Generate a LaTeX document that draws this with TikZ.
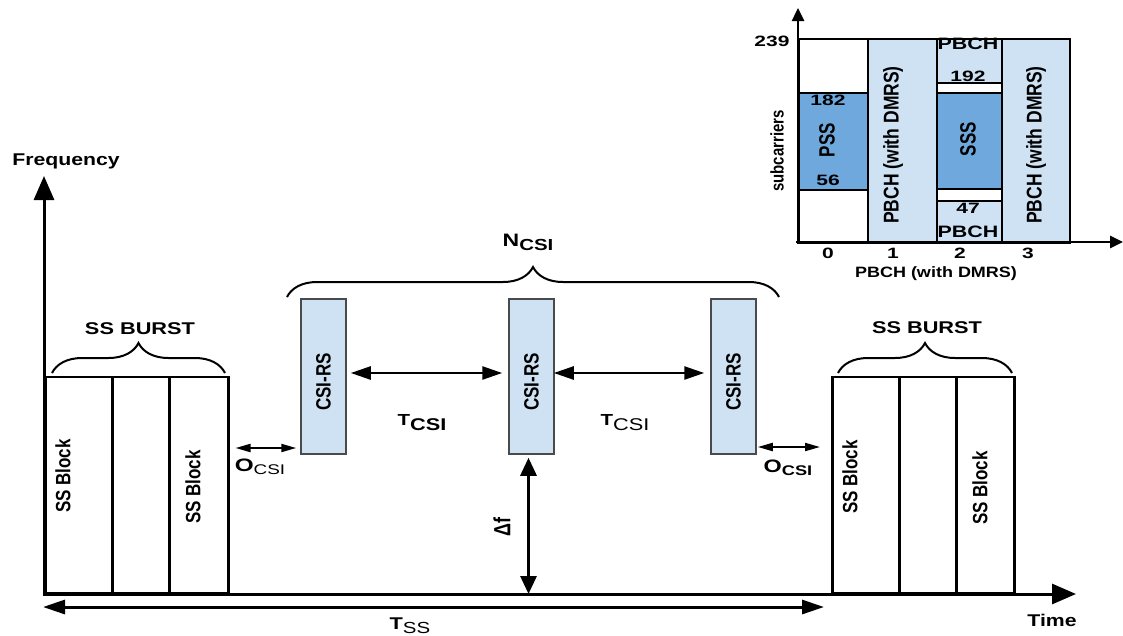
\documentclass[tikz,border=0pt]{standalone}
\usepackage{fontspec}
\setmainfont{Liberation Sans}
\usetikzlibrary{arrows.meta,decorations.pathreplacing}
\definecolor{lblue}{HTML}{CFE2F3}
\definecolor{mblue}{HTML}{6FA8DC}
\definecolor{bgray}{HTML}{4A4A4A}
\newcommand{\hx}[2][1.28]{\scalebox{#1}[1]{#2}}
\newcommand{\vx}[2][1.22]{\scalebox{1}[#1]{#2}}
\newcommand{\fs}[1]{\fontsize{#1}{#1}\selectfont}
\begin{document}
\begin{tikzpicture}[x=1pt,y=-1pt,
  lab/.style={inner sep=0pt, font=\fs{17}\bfseries},
  ilab/.style={inner sep=0pt, font=\fs{15}\bfseries},
  ssbox/.style={draw=black, line width=2.5pt, inner sep=0pt, minimum height=216pt, anchor=south west},
  csibox/.style={draw=bgray, fill=lblue, line width=1.5pt, inner sep=0pt, minimum width=45pt, minimum height=155pt},
  cell/.style={draw=black, line width=1.5pt, inner sep=0pt, anchor=north west},
  axis/.style={line width=3pt, -{Triangle[length=24pt,width=20pt]}},
  iaxis/.style={line width=2.5pt, -{Triangle[length=13pt,width=12pt]}},
  dbl/.style={line width=2.5pt, {Triangle[length=20pt,width=13pt]}-{Triangle[length=20pt,width=13pt]}},
  oarr/.style={line width=2pt, {Triangle[length=15pt,width=8pt]}-{Triangle[length=15pt,width=8pt]}},
  brc/.style={line width=2pt, decorate, decoration={brace, amplitude=30pt}}
]
\useasboundingbox (0,0) rectangle (1123,635);

% ---------- left SS burst ----------
\node[ssbox, minimum width=67pt] (l1) at (44,594) {};
\node[ssbox, minimum width=57pt] (l2) at (111,594) {};
\node[ssbox, minimum width=59pt] (l3) at (168,594) {};
\node[lab, rotate=90] (l1t) at (63,476) {\vx{SS Block}};
\node[lab, rotate=90] (l3t) at (193,487) {\vx{SS Block}};
\draw[brc] (52,373) -- (225,373);
\node[lab] (lburst) at (140,329) {\hx{SS BURST}};

% ---------- right SS burst ----------
\node[ssbox, minimum width=67pt] (r1) at (831,594) {};
\node[ssbox, minimum width=57pt] (r2) at (898,594) {};
\node[ssbox, minimum width=58pt] (r3) at (955,594) {};
\node[lab, rotate=90] (r1t) at (850,477) {\vx{SS Block}};
\node[lab, rotate=90] (r3t) at (980,488) {\vx{SS Block}};
\draw[brc] (838,373) -- (1012,373);
\node[lab] (rburst) at (927,328) {\hx{SS BURST}};

% ---------- CSI-RS ----------
\node[csibox] (c1) at (323.5,376.5) {};
\node[csibox] (c2) at (531.5,376.5) {};
\node[csibox] (c3) at (733.5,376.5) {};
\node[lab, rotate=90] (c1t) at (323.5,382) {\vx{CSI-RS}};
\node[lab, rotate=90] (c2t) at (531.5,382) {\vx{CSI-RS}};
\node[lab, rotate=90] (c3t) at (733.5,382) {\vx{CSI-RS}};
\draw[brc] (287,297) -- (779,297);
\node[lab] (ncsi) at (528,242) {\hx{\fs{18}N\raisebox{-4pt}{\fs{16}CSI}}};

\coordinate (tc) at (0,373);
\draw[dbl, shorten <=4pt, shorten >=6pt] (c1.east |- tc) -- (c2.west |- tc);
\draw[dbl, shorten <=-1pt, shorten >=6pt] (c2.east |- tc) -- (c3.west |- tc);
\node[lab] (tcsi1) at (422,423) {\hx{\fs{16}T\raisebox{-5pt}{\fs{17}CSI}}};
\node[lab] (tcsi2) at (625,423) {\hx{\fs{16}T\raisebox{-5pt}{\fs{17}\mdseries CSI}}};

% offsets
\coordinate (oL) at (0,448);
\coordinate (oR) at (0,447);
\draw[oarr, shorten <=6pt, shorten >=4pt] (l3.east |- oL) -- (c1.west |- oL);
\draw[oarr, shorten <=1pt, shorten >=11pt] (c3.east |- oR) -- (r1.west |- oR);
\node[lab] (olab) at (260,467) {\hx[1.35]{\fs{18}O\raisebox{-3pt}{\fs{14}\mdseries CSI}}};
\node[lab] (orlab) at (788,468) {\hx[1.3]{\fs{18}O\raisebox{-3pt}{\fs{14}CSI}}};

% axes
\coordinate (O) at (44,594);
\coordinate (ftop) at (44,176);
\coordinate (tend) at (1076,594);
\draw[axis] (44,596) -- (ftop);
\draw[axis] (42.5,594) -- (tend);
\node[lab] (freq) at (66,161) {\hx[1.25]{Frequency}};
\node[lab] (time) at (1052,620) {\hx[1.25]{Time}};

% delta f
\draw[line width=3pt, {Triangle[length=18pt,width=16pt]}-{Triangle[length=18pt,width=16pt]}, shorten <=3pt] ([xshift=-3pt]c2.south) -- ([xshift=-3pt]c2.south |- O);
\node[lab, rotate=90] (df) at (502,527) {\vx[1.3]{\fs{18}Δf}};

% T_SS
\coordinate (tsL) at (43,607);
\draw[line width=3pt, {Triangle[length=22pt,width=14pt]}-{Triangle[length=22pt,width=14pt]}, shorten >=7pt] (tsL) -- (r1.west |- tsL);
\node[lab] (tss) at (410,626) {\hx{\fs{17}T\raisebox{-4pt}{\fs{16}\mdseries SS}}};

% ---------- inset ----------
\node[cell, fill=white, minimum width=69pt, minimum height=204pt] (g0) at (798,38) {};
\node[cell, fill=mblue, minimum width=69pt, minimum height=97pt] (pss) at (798,92) {};
\node[cell, fill=lblue, minimum width=69pt, minimum height=204pt] (g1) at (867,38) {};
\node[cell, fill=white, minimum width=65pt, minimum height=204pt] (g2) at (936,38) {};
\node[cell, fill=lblue, minimum width=65pt, minimum height=44pt] (g2a) at (936,38) {};
\node[cell, fill=mblue, minimum width=65pt, minimum height=96pt] (sss) at (936,92) {};
\node[cell, fill=lblue, minimum width=65pt, minimum height=42pt] (g2b) at (936,200) {};
\node[cell, fill=lblue, minimum width=68pt, minimum height=204pt] (g3) at (1001,38) {};

\draw[iaxis] (798,244) -- (798,8);
\draw[iaxis] (796,242) -- (1123,242);

\node[ilab] (n182) at (828,100) {\hx[1.4]{182}};
\node[ilab, rotate=90] (npss) at (827,140) {\vx[1.3]{\fs{17}PSS}};
\node[ilab] (n56) at (828,180) {\hx[1.4]{56}};
\node[ilab, rotate=90] (pb1) at (893,145) {\vx{\fs{17.5}PBCH (with DMRS)}};
\node[ilab, rotate=90] (pb3) at (1036,145) {\vx{\fs{17.5}PBCH (with DMRS)}};
\node[ilab] (pbt) at (968,44) {\hx[1.3]{\fs{16.5}PBCH}};
\node[ilab] (n192) at (968,76) {\hx[1.4]{192}};
\node[ilab, rotate=90] (nsss) at (968,139) {\vx[1.3]{\fs{17}SSS}};
\node[ilab] (n47) at (968,208) {\hx[1.4]{47}};
\node[ilab] (pbb) at (968,232) {\hx[1.3]{\fs{16.5}PBCH}};
\node[ilab] (n239) at (772,41) {\hx[1.4]{239}};
\node[ilab, rotate=90] (subc) at (777,151) {\vx{\fs{15}subcarriers}};
\node[ilab] (x0) at (828,253) {\hx[1.4]{0}};
\node[ilab] (x1) at (893,253) {\hx[1.4]{1}};
\node[ilab] (x2) at (960,253) {\hx[1.4]{2}};
\node[ilab] (x3) at (1028,253) {\hx[1.4]{3}};
\node[ilab] (pbx) at (936,274) {\hx[1.2]{PBCH (with DMRS)}};
\end{tikzpicture}
\end{document}
